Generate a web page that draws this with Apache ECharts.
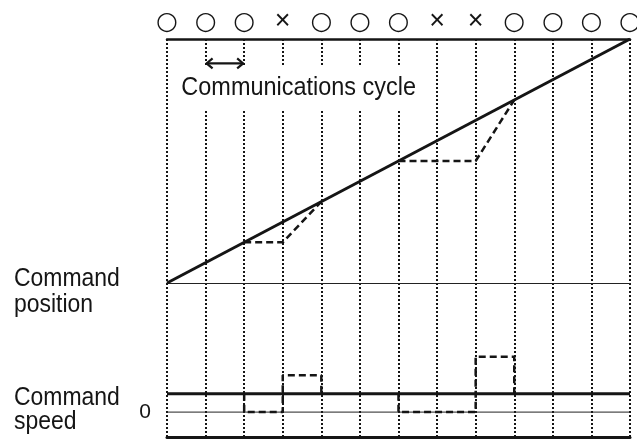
<!DOCTYPE html>
<html>
<head>
<meta charset="utf-8">
<script src="https://cdn.jsdelivr.net/npm/echarts@6/dist/echarts.min.js"></script>
<style>html,body{margin:0;padding:0;background:#fff;}#c{width:637px;height:441px;}</style>
</head>
<body>
<div id="c"></div>
<script>
// ---- data ----
const cycleTicks = [0,1,2,3,4,5,6,7,8,9,10,11,12];
const statusLabels = ['○','○','○','×','○','○','○','×','×','○','○','○','○'];
const commandPositionX = [0, 12];
const commandPositionY = [0, 12];
const actualPositionA_X = [2, 3, 4];
const actualPositionA_Y = [2, 2, 4];
const actualPositionB_X = [6, 8, 9];
const actualPositionB_Y = [6, 6, 9];
const commandSpeedX = [0, 12];
const commandSpeedY = [1, 1];
const actualSpeedA_X = [2, 2, 3, 3, 4, 4];
const actualSpeedA_Y = [1, 0, 0, 2, 2, 1];
const actualSpeedB_X = [6, 6, 8, 8, 9, 9];
const actualSpeedB_Y = [1, 0, 0, 3, 3, 1];
const zeroLineX = [0, 12];
const zeroLineY = [0, 0];
const cycleArrowX = [1, 2];
const cycleArrowLevel = 10.8;
const speedLabelValues = [0];

const zip = (xs, ys) => xs.map((x, i) => [x, ys[i]]);

const FONT = 'Liberation Sans';
const INK = '#151515';
const dotted = { color: INK, width: 2, type: [2, 2] };
const labelFont = '25.5px "Liberation Sans"';

const chart = echarts.init(document.getElementById('c'), null, { renderer: 'canvas' });

const option = {
  animation: false,
  backgroundColor: '#fff',
  grid: [
    { left: 167, right: 7, top: 39, height: 244, containLabel: false, outerBoundsMode: 'none' },
    { left: 167, right: 7, top: 283, height: 154, containLabel: false, outerBoundsMode: 'none' }
  ],
  xAxis: [
    { gridIndex: 0, type: 'value', position: 'bottom', min: 0, max: 12, interval: 1,
      axisLine: { show: true, onZero: false, lineStyle: { color: '#222', width: 1 } },
      axisTick: { show: false }, axisLabel: { show: false },
      splitLine: { show: true, lineStyle: dotted } },
    { gridIndex: 0, type: 'value', position: 'top', min: 0, max: 12, interval: 1,
      axisLine: { show: true, onZero: false, lineStyle: { color: INK, width: 2.5 } },
      axisTick: { show: false },
      axisLabel: { show: true, margin: 4, color: INK,
        showMinLabel: true, showMaxLabel: true, hideOverlap: false,
        formatter: v => (statusLabels[Math.round(v)] === '×' ? '{x|×}' : '{c|○}'),
        rich: {
          c: { fontFamily: 'DejaVu Sans', fontSize: 25, color: INK },
          x: { fontFamily: FONT, fontSize: 27, color: INK }
        } },
      splitLine: { show: false } },
    { gridIndex: 1, type: 'value', position: 'bottom', min: 0, max: 12, interval: 1,
      axisLine: { show: true, onZero: false, lineStyle: { color: INK, width: 3 } },
      axisTick: { show: false }, axisLabel: { show: false },
      splitLine: { show: true, lineStyle: dotted } }
  ],
  yAxis: [
    { gridIndex: 0, type: 'value', min: 0, max: 12, show: false },
    { gridIndex: 1, type: 'value', min: -1.35, max: 7,
      axisLine: { show: false }, axisTick: { show: false }, splitLine: { show: false },
      axisLabel: { show: true, customValues: speedLabelValues, margin: 16,
        fontFamily: FONT, fontSize: 21, color: INK } }
  ],
  series: [
    { type: 'line', xAxisIndex: 0, yAxisIndex: 0, data: zip(commandPositionX, commandPositionY),
      symbol: 'none', lineStyle: { color: INK, width: 3 }, z: 3 },
    { type: 'line', xAxisIndex: 0, yAxisIndex: 0, data: zip(actualPositionA_X, actualPositionA_Y),
      symbol: 'none', lineStyle: { color: INK, width: 2.5, type: [7, 4] }, z: 2 },
    { type: 'line', xAxisIndex: 0, yAxisIndex: 0, data: zip(actualPositionB_X, actualPositionB_Y),
      symbol: 'none', lineStyle: { color: INK, width: 2.5, type: [7, 4] }, z: 2 },
    { type: 'line', xAxisIndex: 2, yAxisIndex: 1, data: zip(zeroLineX, zeroLineY),
      symbol: 'none', lineStyle: { color: '#222', width: 1 }, z: 1 },
    { type: 'line', xAxisIndex: 2, yAxisIndex: 1, data: zip(commandSpeedX, commandSpeedY),
      symbol: 'none', lineStyle: { color: INK, width: 3 }, z: 3 },
    { type: 'line', xAxisIndex: 2, yAxisIndex: 1, data: zip(actualSpeedA_X, actualSpeedA_Y),
      symbol: 'none', lineStyle: { color: INK, width: 2.5, type: [7, 4] }, z: 2 },
    { type: 'line', xAxisIndex: 2, yAxisIndex: 1, data: zip(actualSpeedB_X, actualSpeedB_Y),
      symbol: 'none', lineStyle: { color: INK, width: 2.5, type: [7, 4] }, z: 2 },
    // double-headed arrow marking one communications cycle
    { type: 'custom', xAxisIndex: 0, yAxisIndex: 0, z: 300, silent: true, clip: false,
      data: [[cycleArrowX[0], cycleArrowX[1], cycleArrowLevel]],
      renderItem: (params, api) => {
        const a = api.coord([api.value(0), api.value(2)]);
        const b = api.coord([api.value(1), api.value(2)]);
        const hl = 7, hh = 5;
        const st = { stroke: INK, lineWidth: 2.2, fill: 'none', lineJoin: 'miter' };
        return { type: 'group', children: [
          { type: 'line', z2: 10, shape: { x1: a[0] + 1, y1: a[1], x2: b[0] - 1, y2: b[1] }, style: st },
          { type: 'polyline', z2: 10, shape: { points: [[a[0] + hl, a[1] - hh], [a[0] + 1, a[1]], [a[0] + hl, a[1] + hh]] }, style: st },
          { type: 'polyline', z2: 10, shape: { points: [[b[0] - hl, b[1] - hh], [b[0] - 1, b[1]], [b[0] - hl, b[1] + hh]] }, style: st }
        ] };
      } }
  ],
  graphic: [
    { type: 'text', x: 174, y: 87.5, scaleX: 0.92, z: 100,
      style: { text: 'Communications cycle', font: labelFont, fill: INK,
        textVerticalAlign: 'middle', backgroundColor: '#fff', padding: [6, 8, 13, 8] } },
    { type: 'text', x: 14, y: 279, scaleX: 0.9, z: 100,
      style: { text: 'Command', font: labelFont, fill: INK, textVerticalAlign: 'middle' } },
    { type: 'text', x: 14, y: 305, scaleX: 0.9, z: 100,
      style: { text: 'position', font: labelFont, fill: INK, textVerticalAlign: 'middle' } },
    { type: 'text', x: 14, y: 397.5, scaleX: 0.9, z: 100,
      style: { text: 'Command', font: labelFont, fill: INK, textVerticalAlign: 'middle' } },
    { type: 'text', x: 14, y: 422, scaleX: 0.9, z: 100,
      style: { text: 'speed', font: labelFont, fill: INK, textVerticalAlign: 'middle' } }
  ]
};
chart.setOption(option);
</script>
</body>
</html>
